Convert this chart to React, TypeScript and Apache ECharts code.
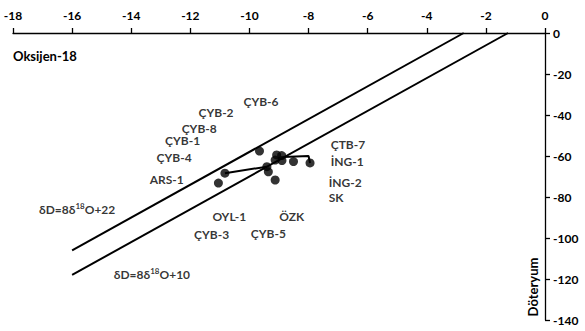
import React, { useEffect, useRef } from "react";
import * as echarts from "echarts";

const xTicks = { min: -18, max: 0, interval: 2 };
const yTicks = { min: -140, max: 0, interval: 20 };

const samplePoints: [number, number][] = [
  [-9.66, -57.6],
  [-9.08, -59.5],
  [-8.91, -59.8],
  [-9.13, -62.0],
  [-8.9, -62.2],
  [-8.51, -62.7],
  [-7.95, -63.4],
  [-9.41, -65.2],
  [-9.36, -67.7],
  [-9.13, -71.7],
  [-10.83, -68.4],
  [-11.05, -73.2],
];

const linkA: [number, number][] = [
  [-10.83, -68.4],
  [-9.41, -65.2],
];
const linkB: [number, number][] = [
  [-8.85, -60.5],
  [-8.0, -60.0],
  [-7.95, -63.4],
];

const line22: [number, number][] = [
  [-16, -106],
  [-2.75, 0],
];
const line10: [number, number][] = [
  [-16, -118],
  [-1.25, 0],
];

const sampleLabels: [number, number, string][] = [
  [-9.61, -33.2, "ÇYB-6"],
  [-11.13, -38.9, "ÇYB-2"],
  [-11.7, -46.5, "ÇYB-8"],
  [-12.26, -52.5, "ÇYB-1"],
  [-12.55, -60.8, "ÇYB-4"],
  [-12.8, -71.7, "ARS-1"],
  [-10.68, -89.6, "OYL-1"],
  [-8.57, -89.3, "ÖZK"],
  [-11.28, -98.5, "ÇYB-3"],
  [-9.36, -98.0, "ÇYB-5"],
];

const rightLabels: [number, number, string][] = [
  [-7.25, -54.6, "ÇTB-7"],
  [-7.25, -62.8, "İNG-1"],
  [-7.32, -73.0, "İNG-2"],
  [-7.32, -80.0, "SK"],
];

const lineLabels: [number, number, string][] = [
  [-15.83, -86.0, "22"],
  [-13.3, -117.7, "10"],
];

const xTitle = "Oksijen-18";
const yTitle = "Döteryum";

const FONT = "Lato, 'Open Sans', sans-serif";

export default function App() {
  const ref = useRef<HTMLDivElement>(null);
  useEffect(() => {
    if (!ref.current) return;
    const chart = echarts.init(ref.current, undefined, { renderer: "svg" });
    const lineStyleBlack = { color: "#000", width: 2 };
    const labelBase = {
      show: true,
      formatter: (p: any) => p.name,
      color: "#000",
      fontWeight: "bold",
      fontSize: 12,
      fontFamily: FONT,
      textBorderWidth: 0,
    };
    chart.setOption({
      animation: false,
      backgroundColor: "#fff",
      textStyle: { fontFamily: FONT },
      grid: { left: 13, right: 40, top: 33, bottom: 11 },
      xAxis: {
        type: "value",
        position: "top",
        min: xTicks.min,
        max: xTicks.max,
        interval: xTicks.interval,
        axisLine: { show: true, onZero: false, lineStyle: { color: "#000", width: 1.3 } },
        axisTick: { show: true, length: 5, lineStyle: { color: "#000", width: 1.3 } },
        axisLabel: { color: "#000", fontWeight: "bold", fontSize: 12, fontFamily: FONT, margin: 12 },
        splitLine: { show: false },
      },
      yAxis: {
        type: "value",
        position: "right",
        min: yTicks.min,
        max: yTicks.max,
        interval: yTicks.interval,
        axisLine: { show: true, onZero: false, lineStyle: { color: "#000", width: 1.3 } },
        axisTick: { show: true, length: 5, lineStyle: { color: "#000", width: 1.3 } },
        axisLabel: { color: "#000", fontWeight: "bold", fontSize: 12, fontFamily: FONT, margin: 8 },
        splitLine: { show: false },
      },
      series: [
        { type: "line", data: line22, symbol: "none", lineStyle: lineStyleBlack, silent: true },
        { type: "line", data: line10, symbol: "none", lineStyle: lineStyleBlack, silent: true },
        { type: "line", data: linkA, symbol: "none", lineStyle: lineStyleBlack },
        { type: "line", data: linkB, symbol: "none", lineStyle: lineStyleBlack },
        {
          type: "scatter",
          data: samplePoints,
          symbol: "circle",
          symbolSize: 9,
          itemStyle: { color: "#000" },
          z: 5,
        },
        {
          type: "scatter",
          data: sampleLabels.map((d) => ({ value: [d[0], d[1]], name: d[2] })),
          symbolSize: 0,
          itemStyle: { color: "transparent" },
          label: { ...labelBase, position: "inside" },
        },
        {
          type: "scatter",
          data: rightLabels.map((d) => ({ value: [d[0], d[1]], name: d[2] })),
          symbolSize: 0,
          itemStyle: { color: "transparent" },
          label: {
            ...labelBase,
            position: "inside",
            align: "left",
            verticalAlign: "middle",
          },
        },
        {
          type: "scatter",
          data: lineLabels.map((d) => ({ value: [d[0], d[1]], name: d[2] })),
          symbolSize: 0,
          itemStyle: { color: "transparent" },
          label: {
            show: true,
            position: "inside",
            textBorderWidth: 0,
            formatter: (p: any) => "{a|δD=8δ}{s|18}{a|O+" + p.name + "}",
            rich: {
              a: { color: "#000", fontWeight: "bold", fontSize: 12, fontFamily: FONT, textBorderWidth: 0 },
              s: {
                color: "#000",
                fontWeight: "bold",
                fontSize: 8,
                fontFamily: FONT,
                textBorderWidth: 0,
                padding: [0, 0, 6, 0],
              },
            },
          },
        },
      ],
      graphic: [
        {
          type: "text",
          left: 13,
          top: 49,
          style: { text: xTitle, fill: "#000", font: "bold 13px " + FONT },
        },
        {
          type: "text",
          x: 533,
          y: 287,
          rotation: Math.PI / 2,
          style: {
            text: yTitle,
            fill: "#000",
            font: "bold 13px " + FONT,
            textAlign: "center",
            textVerticalAlign: "middle",
          },
        },
      ],
    });
    return () => chart.dispose();
  }, []);
  return (
    <div ref={ref} style={{ position: "fixed", left: 0, top: 0, width: 585, height: 331 }} />
  );
}
